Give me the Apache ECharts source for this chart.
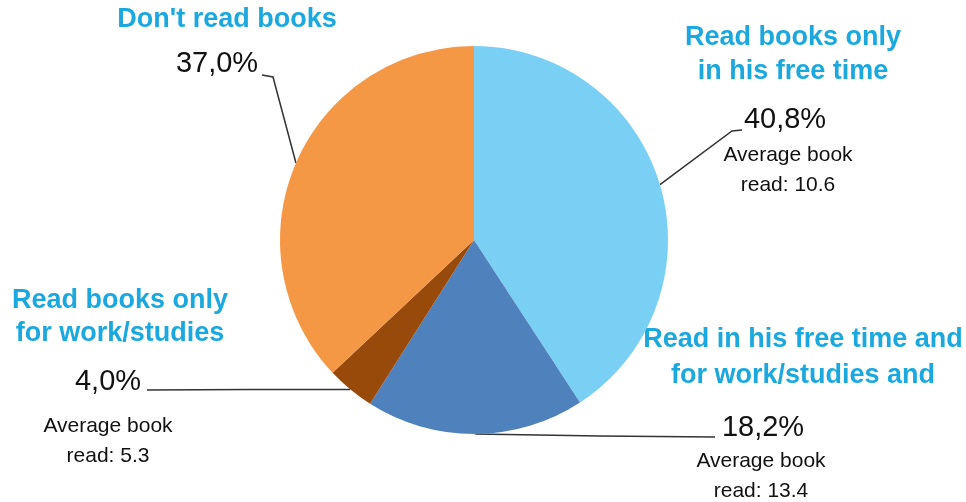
<!DOCTYPE html>
<html>
<head>
<meta charset="utf-8">
<script src="https://cdn.jsdelivr.net/npm/echarts@6/dist/echarts.min.js"></script>
<style>
  html, body { margin: 0; padding: 0; background: #ffffff; }
  #chart { width: 966px; height: 502px; }
</style>
</head>
<body>
<div id="chart"></div>
<script>
// Reading habits: share of people by reading behaviour (clockwise from 12 o'clock)
const categories = [
  'Read books only\nin his free time',
  'Read in his free time and\nfor work/studies and',
  'Read books only\nfor work/studies',
  "Don't read books"
];
const shares = [40.8, 18.2, 4.0, 37.0];
const avgBooks = [10.6, 13.4, 5.3, null];
const sliceColors = ['#7acff5', '#4f81bd', '#984a0b', '#f59846'];

// Where each group's texts sit, and the elbow/end of its leader line (pixels)
const layout = [
  { title: [793, 55, 34],    pct: [785, 120],   avg: [788, 170.5], line: [[732, 131], [742, 130]] },
  { title: [803, 358, 36],   pct: [763, 427.5], avg: [761, 476],   line: [[600, 436], [715, 437]] },
  { title: [120, 317.5, 33], pct: [108, 382],   avg: [108, 441.5], line: [[250, 389.5], [147, 390]] },
  { title: [227, 20, 34],    pct: [217, 63.5],  avg: null,         line: [[273, 77], [262, 75]] }
];

const FONT = '"Liberation Sans", Arial, Helvetica, sans-serif';

const graphics = [];
categories.forEach(function (name, i) {
  const L = layout[i];
  graphics.push({
    type: 'text',
    x: L.title[0],
    y: L.title[1],
    silent: true,
    style: {
      text: name,
      align: 'center',
      verticalAlign: 'middle',
      fontFamily: FONT,
      fontWeight: 'bold',
      fontSize: 27,
      lineHeight: L.title[2],
      fill: '#1ba8df'
    }
  });
  if (avgBooks[i] != null) {
    graphics.push({
      type: 'text',
      x: L.avg[0],
      y: L.avg[1],
      silent: true,
      style: {
        text: 'Average book\nread: ' + avgBooks[i],
        align: 'center',
        verticalAlign: 'middle',
        fontFamily: FONT,
        fontSize: 21,
        lineHeight: 30,
        fill: '#111111'
      }
    });
  }
});

const chart = echarts.init(document.getElementById('chart'), null, { renderer: 'canvas' });
chart.setOption({
  animation: false,
  backgroundColor: '#ffffff',
  graphic: graphics,
  series: [{
    type: 'pie',
    center: [474, 240],
    radius: 194,
    startAngle: 90,
    clockwise: true,
    avoidLabelOverlap: false,
    silent: true,
    itemStyle: { borderWidth: 0 },
    data: shares.map(function (v, i) {
      return { name: categories[i], value: v, itemStyle: { color: sliceColors[i] } };
    }),
    label: {
      show: true,
      position: 'outside',
      formatter: function (p) { return p.value.toFixed(1).replace('.', ',') + '%'; },
      fontFamily: FONT,
      fontSize: 29,
      color: '#111111'
    },
    labelLine: {
      show: true,
      length: 10,
      length2: 10,
      lineStyle: { color: '#333333', width: 1.5 }
    },
    labelLayout: function (p) {
      const L = layout[p.dataIndex];
      const start = p.labelLinePoints ? p.labelLinePoints[0] : L.line[0];
      return {
        x: L.pct[0],
        y: L.pct[1],
        align: 'center',
        verticalAlign: 'middle',
        labelLinePoints: [start, L.line[0], L.line[1]]
      };
    }
  }]
});
</script>
</body>
</html>
